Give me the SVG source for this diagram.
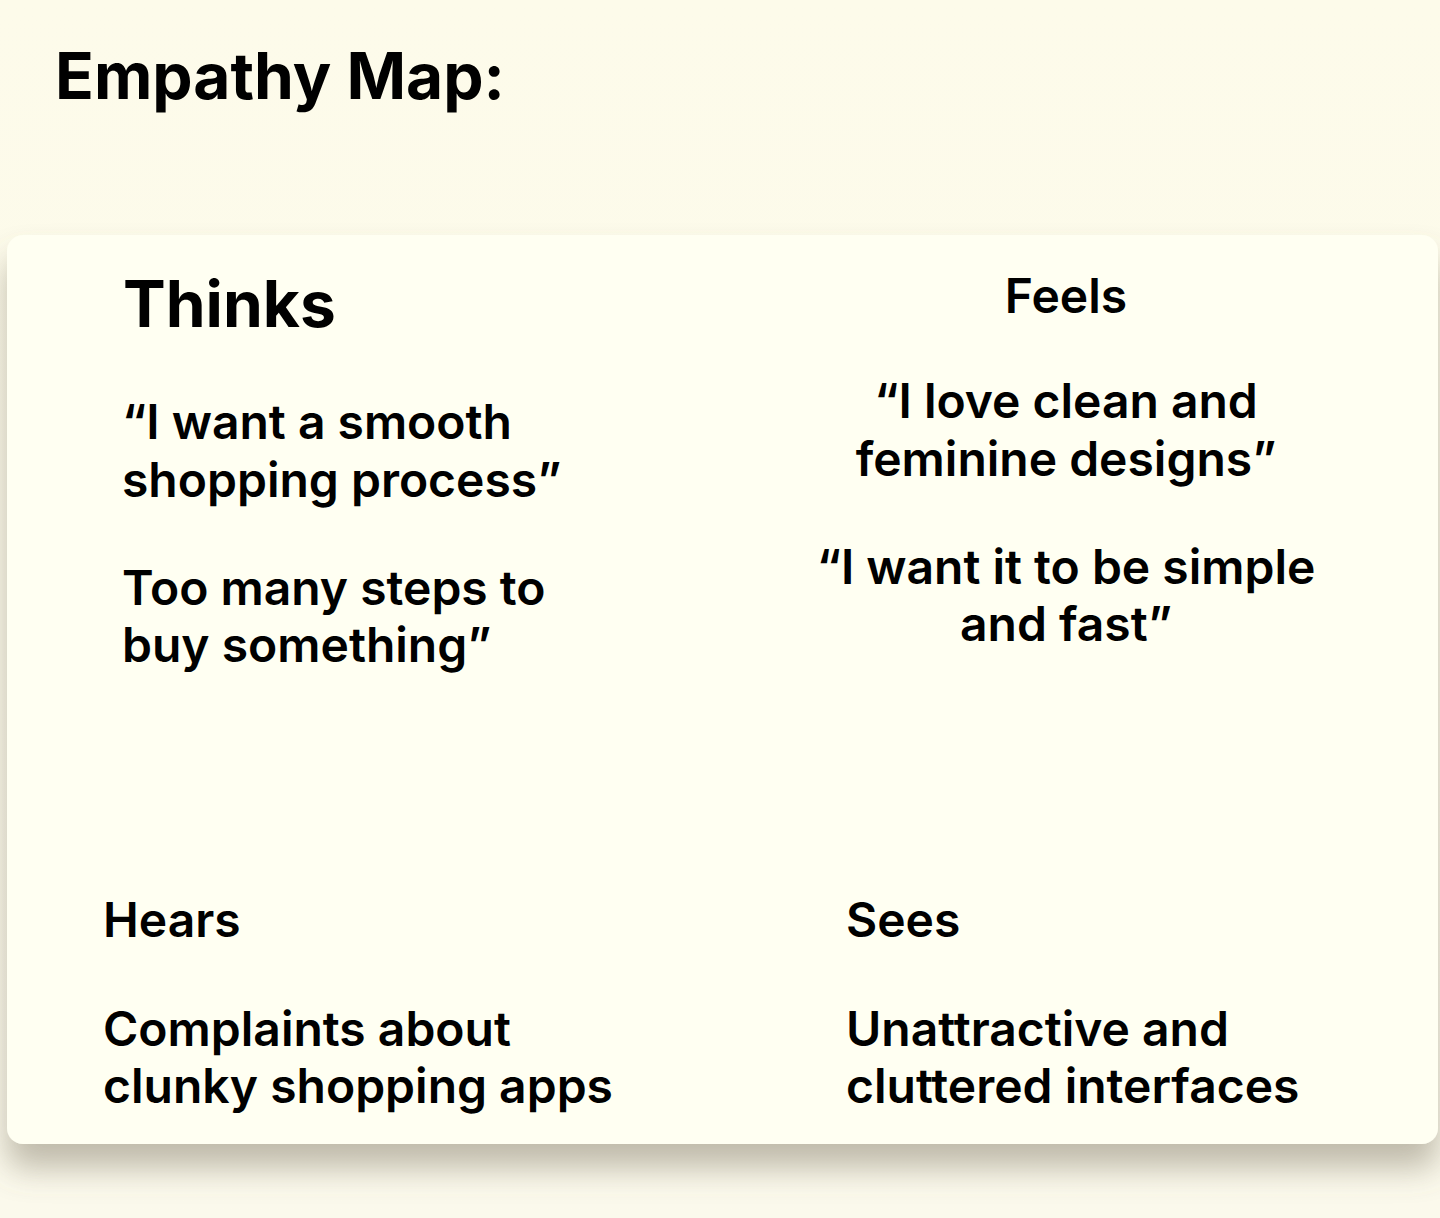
<svg xmlns="http://www.w3.org/2000/svg" width="1440" height="1218" viewBox="0 0 1440 1218">
<defs>
<filter id="sh" x="-10%" y="-10%" width="120%" height="130%">
<feDropShadow dx="0" dy="24" stdDeviation="16" flood-color="#77705a" flood-opacity="0.45"/>
</filter>
<linearGradient id="bg" x1="0" y1="0" x2="0" y2="1">
<stop offset="0" stop-color="#fdfbea"/>
<stop offset="1" stop-color="#fbf9ec"/>
</linearGradient>
</defs>
<style>
text{font-family:Inter,"Liberation Sans",sans-serif;fill:#000;}
.t{font-weight:700;font-size:64px;}
.h{font-weight:600;font-size:48px;}
.b{font-weight:600;font-size:48px;}
.c{text-anchor:middle;}
</style>
<rect width="1440" height="1218" fill="url(#bg)"/>
<text id="title" class="t" x="55" y="99">Empathy Map:</text>
<g id="card">
<rect x="7" y="235" width="1431" height="909" rx="16" fill="#fffff2" filter="url(#sh)"/>
</g>
<g id="thinks">
<text class="t" x="123" y="327">Thinks</text>
<text class="b" x="122" y="439">“I want a smooth</text>
<text class="b" x="122" y="497">shopping process”</text>
<text class="b" x="122" y="605">Too many steps to</text>
<text class="b" x="122" y="662">buy something”</text>
</g>
<g id="feels">
<text class="h c" x="1066" y="313">Feels</text>
<text class="b c" x="1066" y="418">“I love clean and</text>
<text class="b c" x="1066" y="476">feminine designs”</text>
<text class="b c" x="1066" y="584">“I want it to be simple</text>
<text class="b c" x="1066" y="641">and fast”</text>
</g>
<g id="hears">
<text class="h" x="103" y="937">Hears</text>
<text class="b" x="103" y="1046">Complaints about</text>
<text class="b" x="103" y="1103">clunky shopping apps</text>
</g>
<g id="sees">
<text class="h" x="846" y="937">Sees</text>
<text class="b" x="846" y="1046">Unattractive and</text>
<text class="b" x="846" y="1103">cluttered interfaces</text>
</g>
<g id="connectors"/>
</svg>
